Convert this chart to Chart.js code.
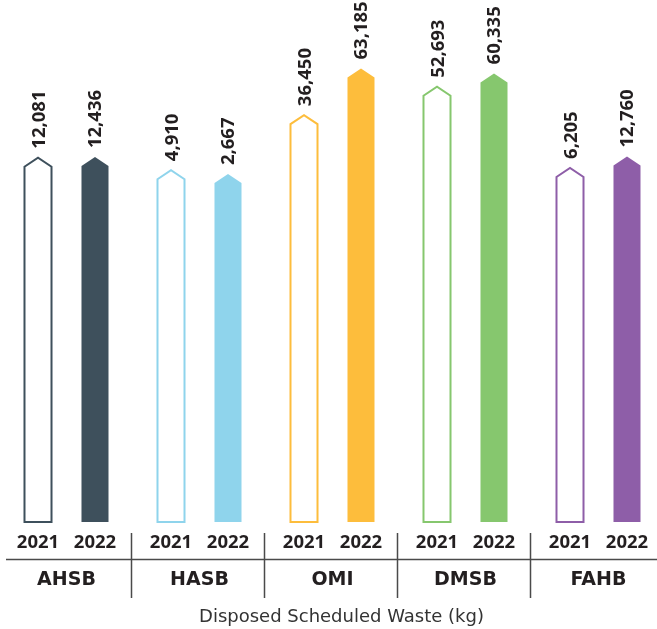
<!DOCTYPE html>
<html>
<head>
<meta charset="utf-8">
<script src="https://cdn.jsdelivr.net/npm/chart.js@4.4.0/dist/chart.umd.min.js"></script>
<style>
  html, body { margin: 0; padding: 0; background: #fff; overflow: hidden; }
  .chart-box { width: 665px; height: 629px; }
</style>
</head>
<body>
<div class="chart-box"><canvas id="wasteChart"></canvas></div>
<script>
const companies = ['AHSB', 'HASB', 'OMI', 'DMSB', 'FAHB']
const years = ['2021', '2022']
const waste2021 = [12081, 4910, 36450, 52693, 6205]
const waste2022 = [12436, 2667, 63185, 60335, 12760]
const companyColors = ['#3e505c', '#8fd4ec', '#fdbd3c', '#86c76e', '#8e5ea8']

// value axis range (infographic bars do not start at zero)
const axisMin = -196600
const axisMax = 102400

const textColor = '#231f20'

const pentagonBars = {
  id: 'pentagonBars',
  beforeDatasetDraw() {
    return false
  },
  afterDatasetsDraw(chart) {
    const ctx = chart.ctx
    chart.data.datasets.forEach((ds, d) => {
      const meta = chart.getDatasetMeta(d)
      meta.data.forEach((bar, i) => {
        const half = bar.width / 2
        const shoulderY = bar.y + 9
        ctx.save()
        ctx.beginPath()
        ctx.moveTo(bar.x - half, bar.base)
        ctx.lineTo(bar.x - half, shoulderY)
        ctx.lineTo(bar.x, bar.y)
        ctx.lineTo(bar.x + half, shoulderY)
        ctx.lineTo(bar.x + half, bar.base)
        ctx.closePath()
        ctx.fillStyle = bar.options.backgroundColor
        ctx.fill()
        if (bar.options.borderWidth) {
          ctx.lineWidth = bar.options.borderWidth
          ctx.strokeStyle = bar.options.borderColor
          ctx.lineJoin = 'miter'
          ctx.stroke()
        }
        ctx.restore()

        // value above the tip, rotated
        ctx.save()
        ctx.translate(bar.x, bar.y - 9)
        ctx.rotate(-Math.PI / 2)
        ctx.font = 'bold 18.5px "Open Sans"'
        ctx.fillStyle = textColor
        ctx.textAlign = 'left'
        ctx.textBaseline = 'alphabetic'
        ctx.fillText(ds.data[i].toLocaleString('en-US'), 0, 6.5)
        ctx.restore()
      })
    })
  },
  afterDraw(chart) {
    const ctx = chart.ctx
    const x = chart.scales.x
    ctx.save()
    ctx.fillStyle = textColor
    ctx.textAlign = 'center'
    ctx.textBaseline = 'alphabetic'

    // year under every bar
    ctx.font = 'bold 18.5px "Open Sans"'
    chart.data.datasets.forEach((ds, d) => {
      chart.getDatasetMeta(d).data.forEach(bar => {
        ctx.fillText(ds.label, bar.x, 548)
      })
    })

    // company names
    ctx.font = 'bold 19px "DejaVu Sans"'
    companies.forEach((c, i) => {
      ctx.fillText(c, x.getPixelForTick(i), 585)
    })

    // divider lines
    ctx.strokeStyle = '#4a4a4a'
    ctx.lineWidth = 1.5
    ctx.beginPath()
    ctx.moveTo(6, 559.5)
    ctx.lineTo(chart.width, 559.5)
    for (let i = 0; i < companies.length - 1; i++) {
      const sx = Math.round((x.getPixelForTick(i) + x.getPixelForTick(i + 1)) / 2) - 1.5
      ctx.moveTo(sx, 533)
      ctx.lineTo(sx, 598)
    }
    ctx.stroke()

    // axis caption
    ctx.font = '18px "DejaVu Sans"'
    ctx.fillStyle = '#333'
    const area = chart.chartArea
    ctx.fillText('Disposed Scheduled Waste (kg)', (area.left + area.right) / 2 + 9, 622)
    ctx.restore()
  }
}

const wasteChart = new Chart(document.getElementById('wasteChart'), {
  type: 'bar',
  data: {
    labels: companies,
    datasets: [{
      label: years[0],
      data: waste2021,
      backgroundColor: '#ffffff',
      borderColor: companyColors,
      borderWidth: 2,
      base: axisMin,
      categoryPercentage: 0.857,
      barPercentage: 0.474
    }, {
      label: years[1],
      data: waste2022,
      backgroundColor: companyColors,
      borderWidth: 0,
      base: axisMin,
      categoryPercentage: 0.857,
      barPercentage: 0.474
    }]
  },
  options: {
    responsive: true,
    maintainAspectRatio: false,
    animation: false,
    layout: {
      padding: { top: 0, bottom: 107, left: 0, right: 0 }
    },
    scales: {
      x: { display: false },
      y: { display: false, min: axisMin, max: axisMax }
    },
    plugins: {
      legend: { display: false },
      tooltip: { enabled: false }
    }
  },
  plugins: [pentagonBars]
})
</script>
</body>
</html>
